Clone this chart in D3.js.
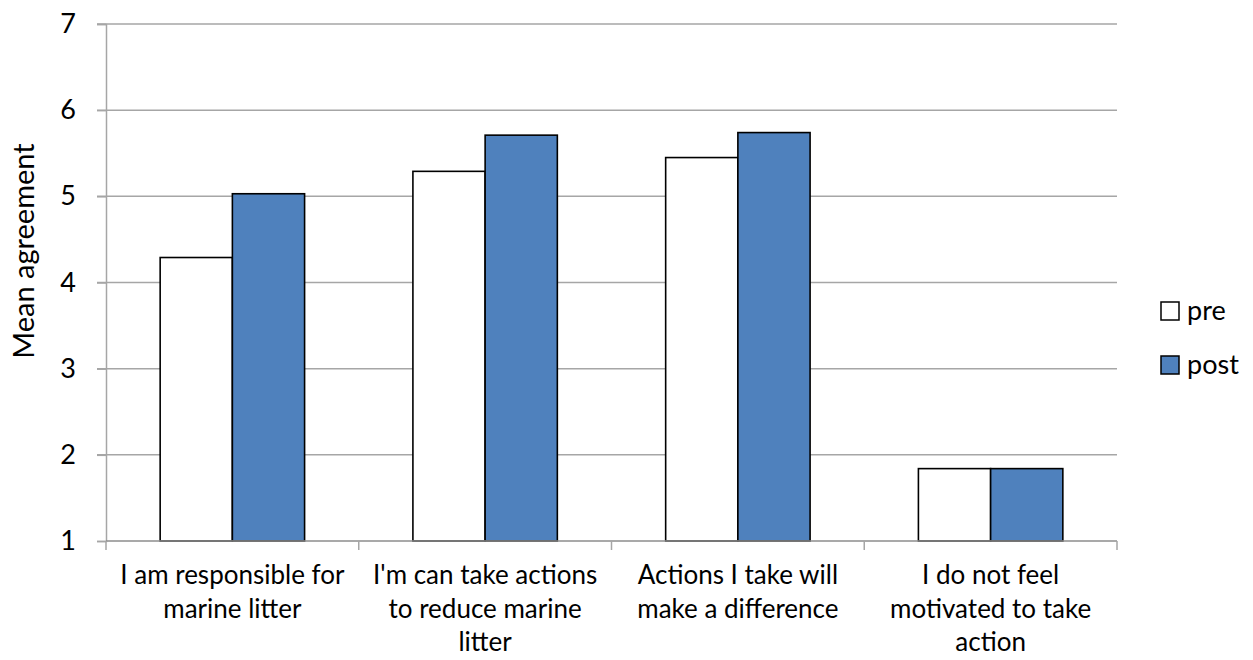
<!DOCTYPE html>
<html>
<head>
<meta charset="utf-8">
<script src="https://cdn.jsdelivr.net/npm/d3@7"></script>
<style>
  html, body { margin: 0; padding: 0; background: #fff; }
  svg { display: block; font-family: Lato, "Open Sans", sans-serif; }
</style>
</head>
<body>
<svg id="chart" width="1253" height="660"></svg>
<script>
// Survey statements (each split into display lines)
const categories = [
  ["I am responsible for", "marine litter"],
  ["I'm can take actions", "to reduce marine", "litter"],
  ["Actions I take will", "make a difference"],
  ["I do not feel", "motivated to take", "action"]
];
const seriesNames = ["pre", "post"];
const preValues  = [4.29, 5.29, 5.45, 1.84];
const postValues = [5.03, 5.71, 5.74, 1.84];
const yTicks = [1, 2, 3, 4, 5, 6, 7];
const seriesFill = { pre: "#ffffff", post: "#4f81bd" };

const svg = d3.select("#chart");
const plot = { left: 106, right: 1117, top: 24, bottom: 541 };

const x0 = d3.scaleBand()
  .domain(d3.range(categories.length))
  .range([plot.left, plot.right])
  .paddingInner(0).paddingOuter(0);

const x1 = d3.scaleBand()
  .domain(seriesNames)
  .range([0, x0.bandwidth()])
  .paddingInner(0)
  .paddingOuter(0.75);

const y = d3.scaleLinear().domain([1, 7]).range([plot.bottom, plot.top]);

// horizontal gridlines
svg.append("g")
  .selectAll("line")
  .data(yTicks.slice(1))
  .join("line")
  .attr("x1", plot.left - 9).attr("x2", plot.right)
  .attr("y1", d => y(d)).attr("y2", d => y(d))
  .attr("stroke", "#a6a6a6").attr("stroke-width", 1.5);

// y axis
const yAxis = svg.append("g")
  .attr("transform", `translate(${plot.left},0)`)
  .call(d3.axisLeft(y).tickValues(yTicks).tickSize(9).tickPadding(21).tickFormat(d3.format("d")));
yAxis.select(".domain").attr("stroke", "#a6a6a6").attr("stroke-width", 1.5);
yAxis.selectAll(".tick line").attr("stroke", "#a6a6a6").attr("stroke-width", 1.5);
yAxis.selectAll(".tick text").attr("font-size", 27).attr("fill", "#000")
  .attr("font-family", "Lato, sans-serif");

// bars
const rows = categories.map((c, i) => ({ i, pre: preValues[i], post: postValues[i] }));
const groups = svg.append("g")
  .selectAll("g")
  .data(rows)
  .join("g")
  .attr("transform", d => `translate(${x0(d.i)},0)`);

groups.selectAll("rect")
  .data(d => seriesNames.map(k => ({ key: k, value: d[k] })))
  .join("rect")
  .attr("x", d => x1(d.key))
  .attr("width", x1.bandwidth())
  .attr("y", d => y(d.value))
  .attr("height", d => y(1) - y(d.value))
  .attr("fill", d => seriesFill[d.key])
  .attr("stroke", "#000")
  .attr("stroke-width", 1.6);

// x axis baseline and category ticks
const xAxis = svg.append("g");
xAxis.append("line")
  .attr("x1", plot.left).attr("x2", plot.right)
  .attr("y1", plot.bottom).attr("y2", plot.bottom)
  .attr("stroke", "#8c8c8c").attr("stroke-width", 1.5);
xAxis.selectAll("line.tick")
  .data(d3.range(categories.length + 1))
  .join("line")
  .attr("class", "tick")
  .attr("x1", i => plot.left + i * x0.step())
  .attr("x2", i => plot.left + i * x0.step())
  .attr("y1", plot.bottom).attr("y2", plot.bottom + 9)
  .attr("stroke", "#a6a6a6").attr("stroke-width", 1.5);

// category labels
const lab = svg.append("g")
  .selectAll("text")
  .data(categories.map((c, i) => ({ c, i })))
  .join("text")
  .attr("text-anchor", "middle")
  .attr("font-size", 26)
  .attr("fill", "#000");
lab.selectAll("tspan")
  .data(d => d.c.map(line => ({ line, i: d.i })))
  .join("tspan")
  .attr("x", d => x0(d.i) + x0.bandwidth() / 2)
  .attr("y", (d, j) => 584 + j * 33.5)
  .text(d => d.line);

// y axis title
svg.append("text")
  .attr("transform", "translate(34,251) rotate(-90)")
  .attr("text-anchor", "middle")
  .attr("font-size", 29)
  .attr("fill", "#000")
  .text("Mean agreement");

// legend
const legend = svg.append("g")
  .selectAll("g")
  .data(seriesNames)
  .join("g")
  .attr("transform", (d, i) => `translate(1161,${302 + i * 54})`);
legend.append("rect")
  .attr("width", 18).attr("height", 18)
  .attr("fill", d => seriesFill[d])
  .attr("stroke", "#000").attr("stroke-width", 1.5);
legend.append("text")
  .attr("x", 26).attr("y", 18)
  .attr("font-size", 27)
  .attr("fill", "#000")
  .text(d => d);
</script>
</body>
</html>
